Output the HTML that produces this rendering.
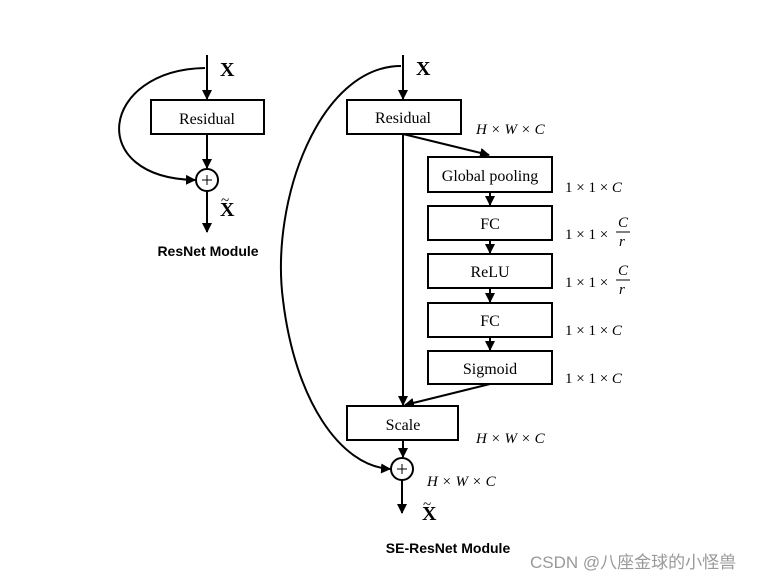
<!DOCTYPE html>
<html><head><meta charset="utf-8"><style>
html,body{margin:0;padding:0;background:#fff;}
svg{display:block}
.t{font-family:"Liberation Serif",serif;font-size:16px;fill:#000}
.m{font-family:"Liberation Serif",serif;font-size:15px;font-style:italic;fill:#000}
.n{font-family:"Liberation Serif",serif;font-size:15px;fill:#000}
.b{font-family:"Liberation Sans",sans-serif;font-size:14px;font-weight:bold;fill:#000}
.x{font-family:"Liberation Serif",serif;font-size:20px;font-weight:bold;fill:#000}
</style></head><body>
<svg width="777" height="581" viewBox="0 0 777 581" xmlns="http://www.w3.org/2000/svg">
<defs><marker id="a" viewBox="0 0 10 10" refX="9" refY="5" markerWidth="5" markerHeight="5" orient="auto"><path d="M0,0L10,5L0,10z" fill="#000"/></marker></defs>
<g stroke="#000" stroke-width="2" fill="none">
<line x1="207" y1="55" x2="207" y2="99" marker-end="url(#a)"/>
<rect x="151" y="100" width="113" height="34" fill="#fff"/>
<line x1="207" y1="134" x2="207" y2="168" marker-end="url(#a)"/>
<circle cx="207" cy="180" r="11"/>
<line x1="207" y1="191" x2="207" y2="232" marker-end="url(#a)"/>
<path d="M205,68 C100,70 85,178 195,180" marker-end="url(#a)"/>
<line x1="403" y1="55" x2="403" y2="99" marker-end="url(#a)"/>
<rect x="347" y="100" width="114" height="34" fill="#fff"/>
<line x1="403" y1="134" x2="403" y2="405" marker-end="url(#a)"/>
<line x1="403" y1="134" x2="489" y2="155" marker-end="url(#a)"/>
<rect x="428" y="157" width="124" height="35" fill="#fff"/>
<line x1="490" y1="192" x2="490" y2="205" marker-end="url(#a)"/>
<rect x="428" y="206" width="124" height="34" fill="#fff"/>
<line x1="490" y1="240" x2="490" y2="253" marker-end="url(#a)"/>
<rect x="428" y="254" width="124" height="34" fill="#fff"/>
<line x1="490" y1="288" x2="490" y2="302" marker-end="url(#a)"/>
<rect x="428" y="303" width="124" height="34" fill="#fff"/>
<line x1="490" y1="337" x2="490" y2="350" marker-end="url(#a)"/>
<rect x="428" y="351" width="124" height="33" fill="#fff"/>
<line x1="490" y1="384" x2="405" y2="405" marker-end="url(#a)"/>
<rect x="347" y="406" width="111" height="34" fill="#fff"/>
<line x1="403" y1="440" x2="403" y2="457" marker-end="url(#a)"/>
<circle cx="402" cy="469" r="11"/>
<line x1="402" y1="480" x2="402" y2="513" marker-end="url(#a)"/>
<path d="M401,66 C320,66 270,200 283,300 C295,400 340,466 390,469" marker-end="url(#a)"/>
<line x1="202" y1="180" x2="212" y2="180" stroke-width="1"/><line x1="207" y1="175" x2="207" y2="185" stroke-width="1"/>
<line x1="397" y1="469" x2="407" y2="469" stroke-width="1"/><line x1="402" y1="464" x2="402" y2="474" stroke-width="1"/>
</g>
<text class="x" x="220" y="76">X</text>
<text class="x" x="220" y="216">X</text><text class="n" x="221" y="205" font-size="17">~</text>
<text class="b" x="208" y="256" text-anchor="middle">ResNet Module</text>
<text class="x" x="416" y="75">X</text>
<text class="x" x="422" y="520">X</text><text class="n" x="423" y="509" font-size="17">~</text>
<text class="b" x="448" y="553" text-anchor="middle">SE-ResNet Module</text>
<text class="t" x="207" y="124" text-anchor="middle">Residual</text>
<text class="t" x="403" y="123" text-anchor="middle">Residual</text>
<text class="t" x="490" y="181" text-anchor="middle">Global pooling</text>
<text class="t" x="490" y="229" text-anchor="middle">FC</text>
<text class="t" x="490" y="277" text-anchor="middle">ReLU</text>
<text class="t" x="490" y="326" text-anchor="middle">FC</text>
<text class="t" x="490" y="374" text-anchor="middle">Sigmoid</text>
<text class="t" x="403" y="430" text-anchor="middle">Scale</text>
<text class="m" x="476" y="134">H × W × C</text>
<text class="m" x="476" y="443">H × W × C</text>
<text class="m" x="427" y="486">H × W × C</text>
<text class="n" x="565" y="192">1 × 1 × <tspan font-style="italic">C</tspan></text>
<text class="n" x="565" y="335">1 × 1 × <tspan font-style="italic">C</tspan></text>
<text class="n" x="565" y="383">1 × 1 × <tspan font-style="italic">C</tspan></text>
<text class="n" x="565" y="239">1 × 1 ×</text>
<text class="m" x="618" y="227">C</text><line x1="616" y1="232" x2="630" y2="232" stroke="#000" stroke-width="1"/><text class="m" x="619" y="246">r</text>
<text class="n" x="565" y="287">1 × 1 ×</text>
<text class="m" x="618" y="275">C</text><line x1="616" y1="280" x2="630" y2="280" stroke="#000" stroke-width="1"/><text class="m" x="619" y="294">r</text>
<text x="530" y="568" font-family="'Liberation Sans','Noto Sans CJK SC',sans-serif" font-size="17" fill="#999">CSDN @八座金球的小怪兽</text>
</svg>
</body></html>
